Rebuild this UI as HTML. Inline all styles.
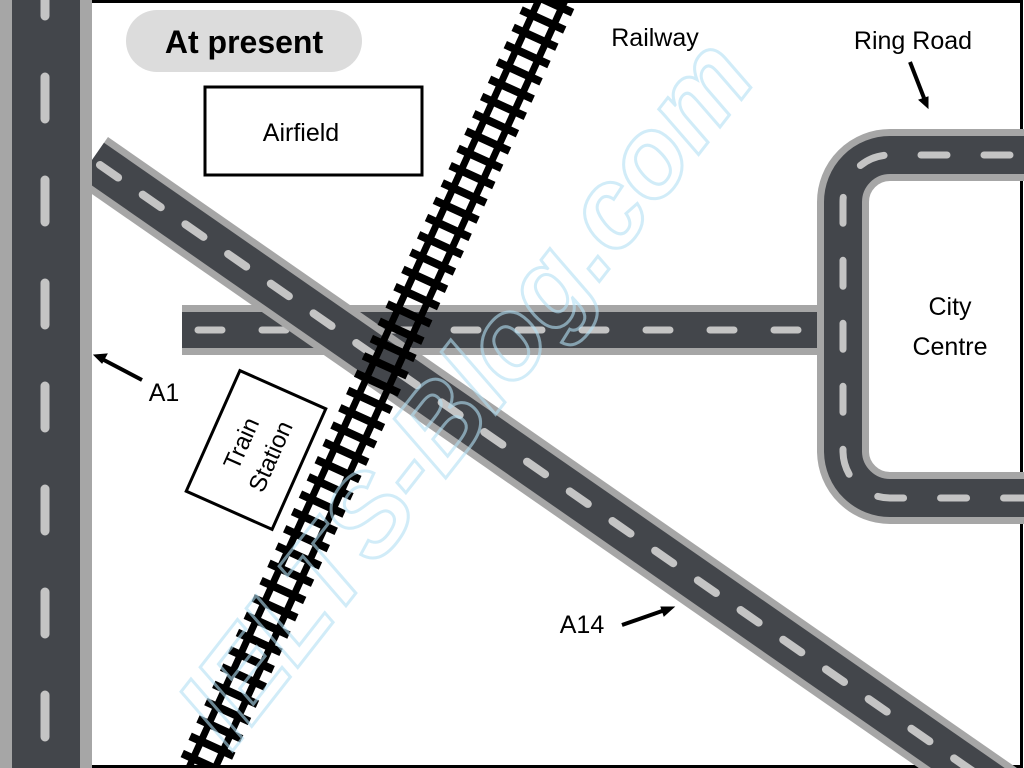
<!DOCTYPE html><html><head><style>html,body{margin:0;background:#fff;overflow:hidden;width:1024px;height:768px}svg{display:block;overflow:hidden}text{font-family:"Liberation Sans",sans-serif}</style></head><body>
<svg width="1024" height="768" viewBox="0 0 1024 768">
<rect width="1024" height="768" fill="#fff"/>
<path d="M92,1.5H1021.5V766.5H92" fill="none" stroke="#000" stroke-width="3"/>
<!-- horizontal -->
<line x1="182" y1="330" x2="830" y2="330" stroke="#a6a6a6" stroke-width="50"/>
<line x1="182" y1="330" x2="830" y2="330" stroke="#43464b" stroke-width="36"/>
<line x1="198" y1="330" x2="820" y2="330" stroke="#c4c4c4" stroke-width="7" stroke-linecap="round" stroke-dasharray="24 40"/>
<!-- A14 -->
<line x1="92" y1="160" x2="1060" y2="832" stroke="#a6a6a6" stroke-width="56"/>
<line x1="92" y1="160" x2="1060" y2="832" stroke="#43464b" stroke-width="42"/>
<line x1="100" y1="165" x2="1060" y2="832" stroke="#c4c4c4" stroke-width="8" stroke-linecap="round" stroke-dasharray="22 30"/>
<!-- ring road -->
<path d="M1024,155H890A47,47 0 0 0 843,202V452A47,47 0 0 0 890,498H1024" fill="none" stroke="#a6a6a6" stroke-width="52"/>
<path d="M1024,155H890A47,47 0 0 0 843,202V452A47,47 0 0 0 890,498H1024" fill="none" stroke="#43464b" stroke-width="38"/>
<path d="M1010,155H890A47,47 0 0 0 843,202V452A47,47 0 0 0 890,498H1024" fill="none" stroke="#c4c4c4" stroke-width="7" stroke-linecap="round" stroke-dasharray="26 37"/>
<!-- A1 -->
<rect x="0" y="0" width="92" height="768" fill="#a6a6a6"/>
<rect x="12" y="0" width="68" height="768" fill="#43464b"/>
<line x1="45" y1="-26" x2="45" y2="768" stroke="#c4c4c4" stroke-width="9" stroke-linecap="round" stroke-dasharray="42 61"/>
<!-- railway -->
<g transform="translate(552,0) rotate(114.5)">
<line x1="-20" y1="0" x2="880" y2="0" stroke="#000" stroke-width="48" stroke-dasharray="8 11"/>
<line x1="-20" y1="-12" x2="880" y2="-12" stroke="#000" stroke-width="7"/>
<line x1="-20" y1="12" x2="880" y2="12" stroke="#000" stroke-width="7"/>
</g>
<!-- watermark -->
<text x="0" y="0" transform="translate(495,415) rotate(-52)" text-anchor="middle" font-size="112" font-weight="bold" font-style="italic" fill="none" stroke="#b3e0f4" stroke-width="3" opacity="0.6">IELTS-Blog.com</text>
<!-- labels -->
<rect x="126" y="10" width="236" height="62" rx="31" fill="#dcdcdc"/>
<text x="244" y="53" text-anchor="middle" font-size="32" font-weight="bold">At present</text>
<rect x="205" y="87" width="217" height="88" fill="#fff" stroke="#000" stroke-width="3"/>
<text x="301" y="141" text-anchor="middle" font-size="25">Airfield</text>
<g transform="translate(256,450) rotate(-66)">
<rect x="-66" y="-47" width="132" height="94" fill="#fff" stroke="#000" stroke-width="3"/>
<text x="0" y="-8" text-anchor="middle" font-size="24">Train</text>
<text x="0" y="24" text-anchor="middle" font-size="24">Station</text>
</g>
<text x="655" y="46" text-anchor="middle" font-size="25">Railway</text>
<text x="913" y="49" text-anchor="middle" font-size="25">Ring Road</text>
<text x="950" y="315" text-anchor="middle" font-size="25">City</text>
<text x="950" y="355" text-anchor="middle" font-size="25">Centre</text>
<text x="164" y="401" text-anchor="middle" font-size="25">A1</text>
<text x="582" y="633" text-anchor="middle" font-size="25">A14</text>
<g stroke="#000" stroke-width="4" fill="#000">
<line x1="142" y1="380" x2="102" y2="359"/><path d="M94,355l13,-1l-5,9z" stroke-width="1"/>
<line x1="622" y1="625" x2="665" y2="610"/><path d="M674,607l-10,9l-3,-9z" stroke-width="1"/>
<line x1="910" y1="62" x2="924" y2="98"/><path d="M928,108l-9,-8l9,-3z" stroke-width="1"/>
</g>
</svg>
</body></html>
